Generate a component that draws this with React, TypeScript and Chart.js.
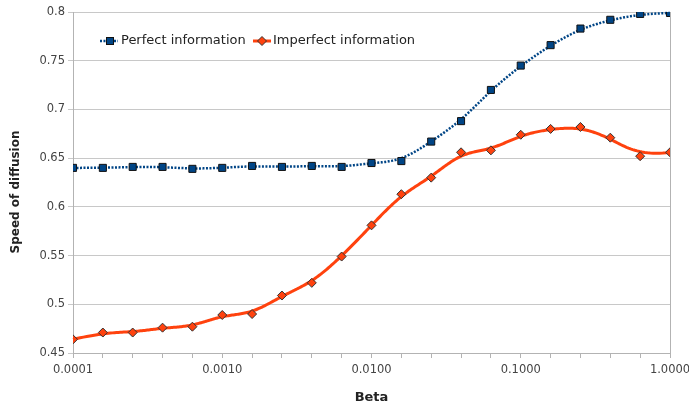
import React, { useEffect, useRef } from "react";
import { Chart, registerables } from "chart.js";

Chart.register(...registerables);

const betaValues = [
  0.0001, 0.00015849, 0.00025119, 0.00039811, 0.00063096,
  0.001, 0.0015849, 0.0025119, 0.0039811, 0.0063096,
  0.01, 0.015849, 0.025119, 0.039811, 0.063096,
  0.1, 0.15849, 0.25119, 0.39811, 0.63096, 1.0,
];

const perfectInfo = [
  0.640, 0.640, 0.641, 0.641, 0.639, 0.640, 0.642, 0.641, 0.642, 0.641,
  0.645, 0.647, 0.667, 0.688, 0.720, 0.745, 0.766, 0.783, 0.792, 0.798, 0.799,
];

const imperfectInfo = [
  0.464, 0.471, 0.471, 0.476, 0.477, 0.489, 0.490, 0.509, 0.522, 0.549,
  0.581, 0.613, 0.630, 0.656, 0.658, 0.674, 0.680, 0.682, 0.671, 0.652, 0.656,
];

const seriesNames = ["Perfect information", "Imperfect information"];
const xTitle = "Beta";
const yTitle = "Speed of diffusion";

const BLUE = "#004586";
const ORANGE = "#ff420e";
const FONT = "'DejaVu Sans', sans-serif";

const lineStyles = [
  { color: BLUE, width: 2.5, dash: [2, 1.5] },
  { color: ORANGE, width: 3, dash: [] as number[] },
];

const isDecade = (v: number) => Math.abs(Math.log10(v) - Math.round(Math.log10(v))) < 1e-6;

// clamped uniform cubic B-spline through the pixel positions given by the chart's scales
function bSplinePath(pts: { x: number; y: number }[], samplesPerSpan = 24) {
  const p = 3;
  const n = pts.length;
  if (n < 4) return pts;
  const spans = n - p;
  const knots: number[] = [];
  for (let i = 0; i <= p; i++) knots.push(0);
  for (let i = 1; i < spans; i++) knots.push(i);
  for (let i = 0; i <= p; i++) knots.push(spans);
  const out: { x: number; y: number }[] = [];
  for (let k = p; k < p + spans; k++) {
    for (let s = 0; s < samplesPerSpan; s++) {
      const u = knots[k] + ((knots[k + 1] - knots[k]) * s) / samplesPerSpan;
      const dx: number[] = [];
      const dy: number[] = [];
      for (let j = 0; j <= p; j++) {
        dx.push(pts[j + k - p].x);
        dy.push(pts[j + k - p].y);
      }
      for (let r = 1; r <= p; r++) {
        for (let j = p; j >= r; j--) {
          const denom = knots[j + 1 + k - r] - knots[j + k - p];
          const a = denom === 0 ? 0 : (u - knots[j + k - p]) / denom;
          dx[j] = (1 - a) * dx[j - 1] + a * dx[j];
          dy[j] = (1 - a) * dy[j - 1] + a * dy[j];
        }
      }
      out.push({ x: dx[p], y: dy[p] });
    }
  }
  out.push({ x: pts[n - 1].x, y: pts[n - 1].y });
  return out;
}

const splinePlugin = {
  id: "bspline",
  beforeDatasetsDraw(chart: any) {
    const ctx = chart.ctx;
    const area = chart.chartArea;
    ctx.save();
    ctx.beginPath();
    ctx.rect(area.left - 2, area.top - 3, area.right - area.left + 4, area.bottom - area.top + 6);
    ctx.clip();
    for (let d = chart.data.datasets.length - 1; d >= 0; d--) {
      const meta = chart.getDatasetMeta(d);
      const pts = meta.data.map((el: any) => ({ x: el.x, y: el.y }));
      const path = bSplinePath(pts);
      const st = lineStyles[d];
      ctx.strokeStyle = st.color;
      ctx.lineWidth = st.width;
      ctx.setLineDash(st.dash);
      ctx.lineJoin = "round";
      ctx.beginPath();
      path.forEach((q, i) => (i === 0 ? ctx.moveTo(q.x, q.y) : ctx.lineTo(q.x, q.y)));
      ctx.stroke();
    }
    ctx.restore();
  },
};

const decorPlugin = {
  id: "decor",
  afterDraw(chart: any) {
    const ctx = chart.ctx;
    const area = chart.chartArea;
    ctx.save();
    // right border
    ctx.strokeStyle = "#b3b3b3";
    ctx.lineWidth = 1;
    ctx.beginPath();
    ctx.moveTo(Math.round(area.right) + 0.5, area.top);
    ctx.lineTo(Math.round(area.right) + 0.5, area.bottom + 5);
    ctx.stroke();

    // y title
    ctx.save();
    ctx.translate(16, 192);
    ctx.rotate(-Math.PI / 2);
    ctx.fillStyle = "#222";
    ctx.font = "bold 12px " + FONT;
    ctx.textAlign = "center";
    ctx.textBaseline = "middle";
    ctx.fillText(yTitle, 0, 0);
    ctx.restore();

    // legend
    const y = 41;
    ctx.strokeStyle = BLUE;
    ctx.lineWidth = 2.5;
    ctx.setLineDash([2, 1.5]);
    ctx.beginPath();
    ctx.moveTo(100, y);
    ctx.lineTo(118, y);
    ctx.stroke();
    ctx.setLineDash([]);
    ctx.fillStyle = BLUE;
    ctx.strokeStyle = "#111";
    ctx.lineWidth = 1;
    ctx.fillRect(106, y - 4, 8, 8);
    ctx.strokeRect(106.5, y - 3.5, 7, 7);

    ctx.strokeStyle = ORANGE;
    ctx.lineWidth = 3;
    ctx.beginPath();
    ctx.moveTo(253, y);
    ctx.lineTo(271, y);
    ctx.stroke();
    ctx.fillStyle = ORANGE;
    ctx.strokeStyle = "#333";
    ctx.lineWidth = 1;
    ctx.beginPath();
    ctx.moveTo(262, y - 4.5);
    ctx.lineTo(266.5, y);
    ctx.lineTo(262, y + 4.5);
    ctx.lineTo(257.5, y);
    ctx.closePath();
    ctx.fill();
    ctx.stroke();

    ctx.fillStyle = "#222";
    ctx.font = "13px " + FONT;
    ctx.textBaseline = "middle";
    ctx.textAlign = "left";
    ctx.fillText(seriesNames[0], 121, y);
    ctx.fillText(seriesNames[1], 273, y);
    ctx.restore();
  },
};

export default function App() {
  const ref = useRef<HTMLCanvasElement>(null);
  useEffect(() => {
    if (!ref.current) return;
    const chart = new Chart(ref.current, {
      type: "line",
      data: {
        datasets: [
          {
            label: seriesNames[0],
            data: betaValues.map((x, i) => ({ x, y: perfectInfo[i] })),
            borderColor: BLUE,
            backgroundColor: BLUE,
            showLine: false,
            pointStyle: "rect",
            pointRadius: 5,
            pointBorderColor: "#111",
            pointBorderWidth: 1,
            pointBackgroundColor: BLUE,
          },
          {
            label: seriesNames[1],
            data: betaValues.map((x, i) => ({ x, y: imperfectInfo[i] })),
            borderColor: ORANGE,
            backgroundColor: ORANGE,
            showLine: false,
            pointStyle: "rectRot",
            pointRadius: 4.5,
            pointBorderColor: "#333",
            pointBorderWidth: 1,
            pointBackgroundColor: ORANGE,
          },
        ],
      },
      options: {
        animation: false,
        responsive: false,
        maintainAspectRatio: false,
        layout: { padding: { top: 12, right: 19, left: 0, bottom: 0 } },
        plugins: { legend: { display: false }, tooltip: { enabled: false } },
        scales: {
          x: {
            type: "logarithmic",
            min: 0.0001,
            max: 1,
            afterBuildTicks: (scale: any) => {
              scale.ticks = betaValues.map((v) => ({ value: v }));
            },
            afterFit: (scale: any) => {
              scale.height = 55;
              scale.paddingLeft = 0;
              scale.paddingRight = 0;
            },
            ticks: {
              autoSkip: false,
              maxRotation: 0,
              color: "#444",
              font: { family: FONT, size: 11.5 },
              padding: 5,
              callback: (v: any) => (isDecade(Number(v)) ? Number(v).toFixed(4) : ""),
            },
            grid: {
              drawOnChartArea: false,
              color: "#b3b3b3",
              tickLength: 5,
            },
            border: { color: "#b3b3b3" },
            title: {
              display: true,
              text: xTitle,
              color: "#222",
              font: { family: FONT, size: 13, weight: "bold" },
              padding: { top: 14, bottom: 3 },
            },
          },
          y: {
            min: 0.45,
            max: 0.8,
            afterFit: (scale: any) => {
              scale.width = 73;
            },
            ticks: {
              stepSize: 0.05,
              color: "#444",
              font: { family: FONT, size: 11.5 },
              padding: 3,
              callback: (v: any) => String(Math.round(Number(v) * 100) / 100),
            },
            grid: { color: "#c8c8c8", tickLength: 5 },
            border: { color: "#b3b3b3" },
            title: { display: false },
          },
        },
      },
      plugins: [splinePlugin, decorPlugin],
    } as any);
    return () => chart.destroy();
  }, []);
  return (
    <div style={{ position: "fixed", left: 0, top: 0, width: 689, height: 408, background: "#fff" }}>
      <canvas ref={ref} width={689} height={408} style={{ width: 689, height: 408 }} />
    </div>
  );
}
